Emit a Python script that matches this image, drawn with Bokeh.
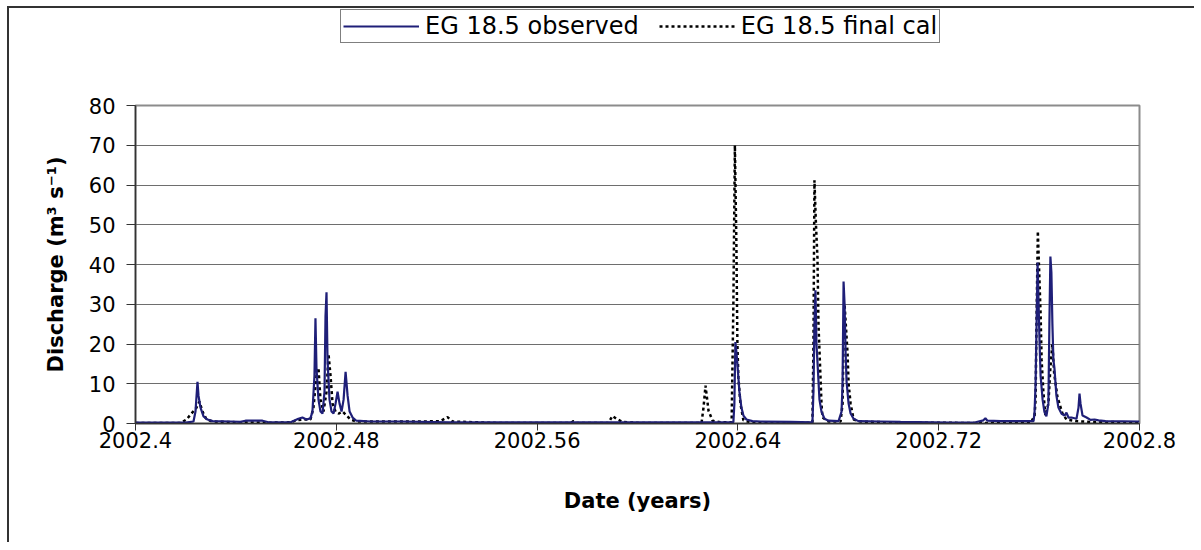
from bokeh.plotting import figure
from bokeh.layouts import column
from bokeh.models import (Legend, LegendItem, FixedTicker, CustomJSTickFormatter,
                          Range1d)
from bokeh.embed import file_html
from bokeh.resources import INLINE

# ---- data (time in decimal years, discharge m3/s) ----
obs_t = [2002.4000, 2002.4199, 2002.4231, 2002.4239, 2002.4247, 2002.4251, 2002.4259,
         2002.4271, 2002.4287, 2002.4307, 2002.4378, 2002.4418, 2002.4438, 2002.4506,
         2002.4530, 2002.4618, 2002.4649, 2002.4665, 2002.4681, 2002.4697, 2002.4705,
         2002.4713, 2002.4717, 2002.4721, 2002.4729, 2002.4737, 2002.4745, 2002.4753,
         2002.4757, 2002.4761, 2002.4765, 2002.4773, 2002.4781, 2002.4789, 2002.4797,
         2002.4805, 2002.4813, 2002.4821, 2002.4829, 2002.4837, 2002.4845, 2002.4853,
         2002.4865, 2002.4880, 2002.4936, 2002.5056, 2002.5255, 2002.5853, 2002.6382,
         2002.6386, 2002.6390, 2002.6394, 2002.6398, 2002.6406, 2002.6414, 2002.6422,
         2002.6434, 2002.6458, 2002.6490, 2002.6610, 2002.6697, 2002.6701, 2002.6705,
         2002.6709, 2002.6713, 2002.6717, 2002.6725, 2002.6733, 2002.6745, 2002.6761,
         2002.6801, 2002.6813, 2002.6817, 2002.6821, 2002.6825, 2002.6829, 2002.6833,
         2002.6841, 2002.6849, 2002.6861, 2002.6880, 2002.6968, 2002.7048, 2002.7247,
         2002.7347, 2002.7378, 2002.7386, 2002.7394, 2002.7446, 2002.7578, 2002.7582,
         2002.7586, 2002.7590, 2002.7594, 2002.7598, 2002.7602, 2002.7606, 2002.7614,
         2002.7621, 2002.7629, 2002.7637, 2002.7641, 2002.7645, 2002.7649, 2002.7653,
         2002.7657, 2002.7661, 2002.7669, 2002.7677, 2002.7689, 2002.7701, 2002.7709,
         2002.7717, 2002.7729, 2002.7749, 2002.7757, 2002.7761, 2002.7765, 2002.7773,
         2002.7789, 2002.7805, 2002.7821, 2002.7837, 2002.7865, 2002.8000]
obs_q = [0.2, 0.2, 0.5, 3, 10.5, 7, 4,
         1.8, 1.0, 0.6, 0.5, 0.4, 0.7, 0.7,
         0.3, 0.3, 1.2, 1.5, 1.0, 1.3, 3,
         12, 26.5, 14, 6, 3, 2.5, 8,
         27, 33, 16, 6, 3, 2.5, 5,
         8, 5, 3, 6, 13, 7, 3,
         1.5, 0.7, 0.5, 0.5, 0.3, 0.3, 0.3,
         5, 20.5, 18, 15, 8, 4, 2,
         1, 0.6, 0.5, 0.4, 0.3, 8, 25,
         33.5, 20, 15.5, 6, 3, 1.2, 0.7,
         0.6, 3, 10, 35.7, 30, 18, 10.5,
         5, 2.5, 1.2, 0.6, 0.5, 0.4, 0.2,
         0.3, 0.8, 1.3, 0.7, 0.6, 0.6, 3,
         10, 25, 40.5, 30, 20, 12, 6,
         3, 1.8, 5, 25, 42, 38, 25,
         16, 14, 7, 4, 2.5, 2, 2.7,
         1.5, 1.5, 1.2, 4, 7.5, 5, 2,
         1.5, 0.9, 1.0, 0.8, 0.6, 0.5]

sim_t = [2002.4000, 2002.4179, 2002.4203, 2002.4223, 2002.4243, 2002.4255, 2002.4267,
         2002.4283, 2002.4307, 2002.4418, 2002.4538, 2002.4618, 2002.4641, 2002.4673,
         2002.4697, 2002.4709, 2002.4721, 2002.4729, 2002.4737, 2002.4749, 2002.4761,
         2002.4769, 2002.4777, 2002.4785, 2002.4797, 2002.4809, 2002.4825, 2002.4841,
         2002.4857, 2002.4880, 2002.5135, 2002.5215, 2002.5243, 2002.5263, 2002.5454,
         2002.5733, 2002.5745, 2002.5757, 2002.5884, 2002.5900, 2002.5916, 2002.5940,
         2002.6012, 2002.6255, 2002.6263, 2002.6271, 2002.6283, 2002.6299, 2002.6331,
         2002.6375, 2002.6382, 2002.6388, 2002.6394, 2002.6398, 2002.6402, 2002.6410,
         2002.6422, 2002.6450, 2002.6649, 2002.6697, 2002.6701, 2002.6705, 2002.6711,
         2002.6717, 2002.6721, 2002.6733, 2002.6737, 2002.6761, 2002.6809, 2002.6817,
         2002.6821, 2002.6825, 2002.6837, 2002.6841, 2002.6849, 2002.6861, 2002.6888,
         2002.7048, 2002.7566, 2002.7582, 2002.7586, 2002.7590, 2002.7595, 2002.7602,
         2002.7606, 2002.7610, 2002.7617, 2002.7625, 2002.7637, 2002.7645, 2002.7653,
         2002.7660, 2002.7673, 2002.7693, 2002.7709, 2002.7745, 2002.7805, 2002.8000]
sim_q = [0.1, 0.1, 1.0, 2.5, 4, 5.5, 3,
         1.0, 0.5, 0.3, 0.2, 0.3, 0.8, 1,
         1, 4, 12, 14, 6, 3, 8,
         17.5, 12, 5, 3, 2.5, 3, 2,
         1, 0.5, 0.5, 0.6, 1.6, 0.5, 0.1,
         0.1, 0.6, 0.1, 0.1, 1.9, 1.2, 0.4,
         0.1, 0.1, 4, 9.5, 3.2, 0.7, 0.3,
         0.3, 30, 70, 45, 20, 11.6, 5,
         0.8, 0.3, 0.2, 0.2, 20, 61.2, 50,
         41.7, 25, 5, 1.5, 0.5, 0.5, 5,
         20, 30, 17.5, 10, 5, 1, 0.5,
         0.2, 0.1, 2, 6, 27, 48.4, 35,
         27.5, 16, 8, 2, 5, 14, 20,
         12.6, 6.7, 2.5, 1, 0.6, 0.4, 0.3]

series_labels = ["EG 18.5 observed", "EG 18.5 final cal"]
x_ticks = [2002.4, 2002.48, 2002.56, 2002.64, 2002.72, 2002.8]
y_ticks = [0, 10, 20, 30, 40, 50, 60, 70, 80]

FONT = "DejaVu Sans"
OBS_STYLE = dict(line_color="#1f1f78", line_width=2.2)
SIM_STYLE = dict(line_color="black", line_width=2.5, line_dash="3 3")

# ---------------- legend strip (top) ----------------
# the series are drawn here too, but out of this strip's visible range,
# so that the legend can show their line styles
lf = figure(width=1185, height=77, output_backend="svg", toolbar_location=None,
            x_axis_type=None, y_axis_type=None, x_range=Range1d(0, 1), y_range=Range1d(0, 1),
            min_border=0)
lf.outline_line_color = None
lf.grid.visible = False
lo = lf.line(obs_t, obs_q, **OBS_STYLE)
ls = lf.line(sim_t, sim_q, **SIM_STYLE)
legend = Legend(items=[LegendItem(label=series_labels[0], renderers=[lo]),
                       LegendItem(label=series_labels[1], renderers=[ls])],
                orientation="horizontal", location=(205, 42),
                label_text_font=FONT, label_text_font_size="24px",
                label_text_color="black",
                glyph_width=76, glyph_height=20, label_standoff=6, spacing=20,
                padding=2, margin=0, border_line_color="black", border_line_width=1,
                background_fill_color="white", background_fill_alpha=1)
lf.add_layout(legend, "center")

# ---------------- main chart ----------------
p = figure(width=1185, height=457, output_backend="svg", toolbar_location=None,
           x_range=Range1d(2002.4, 2002.8), y_range=Range1d(0, 80),
           frame_width=1004, frame_height=318,
           min_border_left=126, min_border_top=20, min_border_right=55,
           min_border_bottom=119)
p.background_fill_color = "white"
p.border_fill_color = "white"
p.outline_line_color = "#8c8c8c"
p.outline_line_width = 2

sim_r = p.line(sim_t, sim_q, **SIM_STYLE)
obs_r = p.line(obs_t, obs_q, **OBS_STYLE)

p.xgrid.visible = False
p.ygrid.grid_line_color = "#6e6e6e"
p.ygrid.grid_line_width = 1.2

p.xaxis.ticker = FixedTicker(ticks=x_ticks)
p.xaxis.formatter = CustomJSTickFormatter(code="return String(Math.round(tick*100)/100);")
p.yaxis.ticker = FixedTicker(ticks=y_ticks)
for ax in (p.xaxis, p.yaxis):
    ax.axis_line_color = "#333333"
    ax.axis_line_width = 1.5
    ax.major_tick_line_color = "#333333"
    ax.major_tick_in = 0
    ax.minor_tick_line_color = None
    ax.major_label_text_font = FONT
    ax.major_label_text_font_size = "21px"
    ax.major_label_text_color = "black"
    ax.axis_label_text_font = FONT
    ax.axis_label_text_font_style = "bold"
    ax.axis_label_text_font_size = "21px"
    ax.axis_label_text_color = "black"
p.xaxis.axis_label = "Date (years)"
p.yaxis.axis_label = "Discharge (m\u00b3 s\u207b\u00b9)"
p.xaxis.major_tick_out = 7
p.yaxis.major_tick_out = 9
p.xaxis.major_label_standoff = 1
p.xaxis.axis_label_standoff = 38
p.yaxis.major_label_standoff = 11
p.yaxis.axis_label_standoff = 18

layout = column(lf, p, spacing=0)
layout.styles = {"margin-left": "7px", "margin-top": "6px",
                 "border-left": "2px solid #333333", "border-top": "2px solid #333333"}

open("out.html", "w").write(file_html(layout, INLINE))
